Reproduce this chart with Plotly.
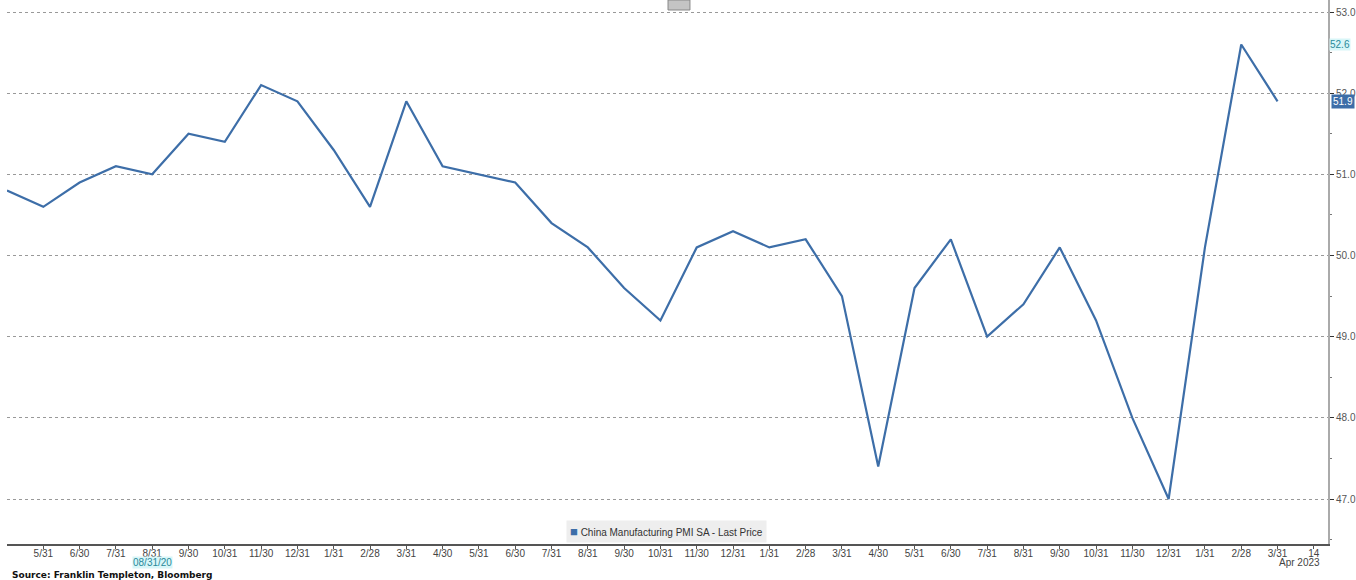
import plotly.graph_objects as go

# ---- data ----
dates = ["2020-04-30", "2020-05-31", "2020-06-30", "2020-07-31", "2020-08-31", "2020-09-30",
         "2020-10-31", "2020-11-30", "2020-12-31", "2021-01-31", "2021-02-28", "2021-03-31",
         "2021-04-30", "2021-05-31", "2021-06-30", "2021-07-31", "2021-08-31", "2021-09-30",
         "2021-10-31", "2021-11-30", "2021-12-31", "2022-01-31", "2022-02-28", "2022-03-31",
         "2022-04-30", "2022-05-31", "2022-06-30", "2022-07-31", "2022-08-31", "2022-09-30",
         "2022-10-31", "2022-11-30", "2022-12-31", "2023-01-31", "2023-02-28", "2023-03-31"]
pmi = [50.8, 50.6, 50.9, 51.1, 51.0, 51.5, 51.4, 52.1, 51.9, 51.3, 50.6, 51.9,
       51.1, 51.0, 50.9, 50.4, 50.1, 49.6, 49.2, 50.1, 50.3, 50.1, 50.2, 49.5,
       47.4, 49.6, 50.2, 49.0, 49.4, 50.1, 49.2, 48.0, 47.0, 50.1, 52.6, 51.9]
x_tick_labels = ["5/31", "6/30", "7/31", "8/31", "9/30", "10/31", "11/30", "12/31", "1/31", "2/28",
                 "3/31", "4/30", "5/31", "6/30", "7/31", "8/31", "9/30", "10/31", "11/30", "12/31",
                 "1/31", "2/28", "3/31", "4/30", "5/31", "6/30", "7/31", "8/31", "9/30", "10/31",
                 "11/30", "12/31", "1/31", "2/28", "3/31", "14"]
y_ticks = [47.0, 48.0, 49.0, 50.0, 51.0, 52.0, 53.0]
series_name = "China Manufacturing PMI SA - Last Price"
source_text = "Source: Franklin Templeton, Bloomberg"
marker_date_label = "08/31/20"
last_period_label = "Apr 2023"

LINE = "#3d6ea8"
FONT = "Liberation Sans"

x_idx = list(range(len(dates)))
tick_pos = list(range(1, len(x_tick_labels) + 1))

fig = go.Figure()
fig.add_trace(go.Scatter(x=x_idx, y=pmi, mode="lines", name=series_name,
                         line=dict(color=LINE, width=2.2), showlegend=False,
                         customdata=dates, hovertemplate="%{customdata}: %{y}<extra></extra>"))

fig.update_layout(
    width=1356, height=580,
    margin=dict(l=7, r=28, t=0, b=36, autoexpand=False),
    paper_bgcolor="white", plot_bgcolor="white",
    font=dict(family=FONT, size=10, color="#444"),
    xaxis=dict(range=[0, 36.39], tickvals=tick_pos, ticktext=x_tick_labels,
               showgrid=False, zeroline=False, showline=True, linecolor="#555", linewidth=1.5,
               ticks="outside", ticklen=3, tickcolor="#555", automargin=False,
               ticklabelstandoff=-4,
               tickfont=dict(size=10, color="#444")),
    yaxis=dict(range=[46.446, 53.148], side="right", tickvals=y_ticks,
               ticktext=[f"{v:.1f}" for v in y_ticks], automargin=False,
               showgrid=True, gridcolor="#999", griddash="dot", gridwidth=1,
               zeroline=False, showline=True, linecolor="#aaa", linewidth=2,
               ticks="outside", ticklen=4, tickcolor="#333",
               minor=dict(dtick=0.5, ticks="outside", ticklen=2, tickcolor="#777"),
               tickfont=dict(size=10, color="#555")),
)

# last value labels
fig.add_annotation(x=1, xref="paper", y=pmi[-2], yref="y", xanchor="left", yanchor="middle",
                   xshift=1, text=f"{pmi[-2]:.1f}", showarrow=False, bgcolor="#d8f6f8",
                   font=dict(size=10, color="#2a8a9a"), borderpad=0)
fig.add_annotation(x=1, xref="paper", y=pmi[-1], yref="y", xanchor="left", yanchor="middle",
                   xshift=3, text=f"{pmi[-1]:.1f}", showarrow=False, bgcolor=LINE,
                   font=dict(size=10, color="white"), borderpad=1)
# date marker label
fig.add_annotation(x=4, xref="x", y=0, yref="paper", yanchor="middle",
                   text=marker_date_label, showarrow=False, bgcolor="#d8f6f8", yshift=-18,
                   font=dict(size=10, color="#2a8a9a"), borderpad=0)
# period label under last tick
fig.add_annotation(x=36, xref="x", y=0, yref="paper", yanchor="middle", xanchor="right",
                   xshift=8, text=last_period_label, showarrow=False, yshift=-18,
                   font=dict(size=10, color="#444"))
# legend box
fig.add_annotation(x=0.4989, xref="paper", y=0.0, yref="paper", yanchor="bottom", yshift=1,
                   text=f"<span style='color:{LINE};font-size:13px'>■</span> {series_name}",
                   showarrow=False, bgcolor="#eeeeee", borderpad=3,
                   font=dict(size=10, color="#333"))
# source
fig.add_annotation(x=0, xref="paper", y=0, yref="paper", xanchor="left", yanchor="middle",
                   xshift=3, yshift=-31, text=f"<b>{source_text}</b>", showarrow=False,
                   font=dict(size=9, color="#111", family="DejaVu Sans"))
# small toolbar icon at top
fig.add_shape(type="rect", xref="paper", yref="paper", x0=0.5004, x1=0.517, y0=0.9816, y1=1.0,
              fillcolor="#c4c4c4", line=dict(color="#888", width=1))

fig.write_html("out.html", config={"displayModeBar": False},
               post_script="document.body.style.margin='0';")
